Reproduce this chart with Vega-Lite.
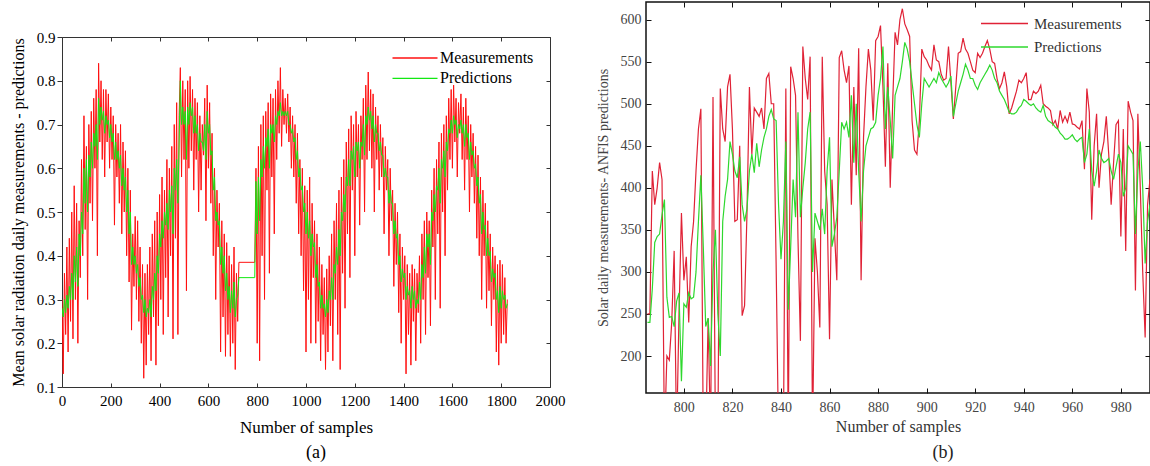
{
"$schema":"https://vega.github.io/schema/vega-lite/v6.json",
"padding":{"left":9,"top":0,"right":0,"bottom":0},
"config":{"font":"Liberation Serif","axis":{"grid":false,"labelFont":"Liberation Serif","titleFont":"Liberation Serif","titleFontWeight":"normal","labelOverlap":false,"labelFlush":false},"title":{"font":"Liberation Serif","fontWeight":"normal"},"legend":{"labelFont":"Liberation Serif"}},
"datasets":{
"a":[
{"s":0,"m":0.30,"p":0.28},{"s":5,"m":0.13,"p":0.26},{"s":10,"m":0.36,"p":0.30},{"s":15,"m":0.22,"p":0.27},{"s":20,"m":0.42,"p":0.31},{"s":25,"m":0.18,"p":0.28},{"s":30,"m":0.44,"p":0.33},{"s":35,"m":0.25,"p":0.30},{"s":40,"m":0.50,"p":0.36},{"s":45,"m":0.21,"p":0.30},{"s":50,"m":0.56,"p":0.40},{"s":55,"m":0.30,"p":0.34},{"s":60,"m":0.52,"p":0.42},{"s":65,"m":0.20,"p":0.33},{"s":70,"m":0.48,"p":0.45},{"s":75,"m":0.35,"p":0.40},{"s":80,"m":0.62,"p":0.50},{"s":85,"m":0.40,"p":0.45},{"s":90,"m":0.72,"p":0.60},{"s":95,"m":0.46,"p":0.52},
{"s":100,"m":0.65,"p":0.62},{"s":105,"m":0.30,"p":0.50},{"s":110,"m":0.70,"p":0.63},{"s":115,"m":0.52,"p":0.58},{"s":120,"m":0.73,"p":0.66},{"s":125,"m":0.48,"p":0.60},{"s":130,"m":0.76,"p":0.68},{"s":135,"m":0.60,"p":0.65},{"s":140,"m":0.78,"p":0.70},{"s":145,"m":0.40,"p":0.62},{"s":150,"m":0.84,"p":0.76},{"s":155,"m":0.66,"p":0.70},{"s":160,"m":0.80,"p":0.74},{"s":165,"m":0.62,"p":0.71},{"s":170,"m":0.78,"p":0.73},{"s":175,"m":0.58,"p":0.68},{"s":180,"m":0.78,"p":0.72},{"s":185,"m":0.66,"p":0.70},{"s":190,"m":0.77,"p":0.71},{"s":195,"m":0.60,"p":0.67},
{"s":200,"m":0.74,"p":0.70},{"s":205,"m":0.62,"p":0.66},{"s":210,"m":0.72,"p":0.68},{"s":215,"m":0.47,"p":0.62},{"s":220,"m":0.70,"p":0.66},{"s":225,"m":0.58,"p":0.62},{"s":230,"m":0.68,"p":0.64},{"s":235,"m":0.52,"p":0.60},{"s":240,"m":0.70,"p":0.63},{"s":245,"m":0.45,"p":0.56},{"s":250,"m":0.66,"p":0.60},{"s":255,"m":0.50,"p":0.55},{"s":260,"m":0.64,"p":0.58},{"s":265,"m":0.40,"p":0.50},{"s":270,"m":0.60,"p":0.55},{"s":275,"m":0.34,"p":0.45},{"s":280,"m":0.55,"p":0.50},{"s":285,"m":0.23,"p":0.38},{"s":290,"m":0.45,"p":0.42},{"s":295,"m":0.33,"p":0.38},
{"s":300,"m":0.49,"p":0.40},{"s":305,"m":0.30,"p":0.36},{"s":310,"m":0.48,"p":0.38},{"s":315,"m":0.25,"p":0.33},{"s":320,"m":0.42,"p":0.35},{"s":325,"m":0.20,"p":0.30},{"s":330,"m":0.38,"p":0.31},{"s":335,"m":0.12,"p":0.27},{"s":340,"m":0.36,"p":0.30},{"s":345,"m":0.15,"p":0.26},{"s":350,"m":0.38,"p":0.28},{"s":355,"m":0.22,"p":0.27},{"s":360,"m":0.42,"p":0.30},{"s":365,"m":0.16,"p":0.26},{"s":370,"m":0.45,"p":0.33},{"s":375,"m":0.26,"p":0.30},{"s":380,"m":0.48,"p":0.36},{"s":385,"m":0.15,"p":0.32},{"s":390,"m":0.50,"p":0.40},{"s":395,"m":0.24,"p":0.36},
{"s":400,"m":0.54,"p":0.45},{"s":405,"m":0.30,"p":0.42},{"s":410,"m":0.58,"p":0.48},{"s":415,"m":0.22,"p":0.44},{"s":420,"m":0.55,"p":0.50},{"s":425,"m":0.35,"p":0.47},{"s":430,"m":0.62,"p":0.52},{"s":435,"m":0.26,"p":0.46},{"s":440,"m":0.60,"p":0.55},{"s":445,"m":0.40,"p":0.50},{"s":450,"m":0.65,"p":0.56},{"s":455,"m":0.21,"p":0.45},{"s":460,"m":0.70,"p":0.60},{"s":465,"m":0.44,"p":0.55},{"s":470,"m":0.75,"p":0.62},{"s":475,"m":0.22,"p":0.52},{"s":480,"m":0.72,"p":0.66},{"s":485,"m":0.83,"p":0.80},{"s":490,"m":0.58,"p":0.70},{"s":495,"m":0.80,"p":0.74},
{"s":500,"m":0.62,"p":0.70},{"s":505,"m":0.78,"p":0.73},{"s":510,"m":0.32,"p":0.62},{"s":515,"m":0.80,"p":0.74},{"s":520,"m":0.60,"p":0.70},{"s":525,"m":0.81,"p":0.75},{"s":530,"m":0.64,"p":0.72},{"s":535,"m":0.78,"p":0.74},{"s":540,"m":0.55,"p":0.68},{"s":545,"m":0.76,"p":0.72},{"s":550,"m":0.62,"p":0.68},{"s":555,"m":0.75,"p":0.70},{"s":560,"m":0.50,"p":0.64},{"s":565,"m":0.72,"p":0.68},{"s":570,"m":0.55,"p":0.66},{"s":575,"m":0.70,"p":0.66},{"s":580,"m":0.63,"p":0.64},{"s":585,"m":0.76,"p":0.70},{"s":590,"m":0.48,"p":0.62},{"s":595,"m":0.79,"p":0.73},
{"s":600,"m":0.60,"p":0.68},{"s":605,"m":0.75,"p":0.70},{"s":610,"m":0.52,"p":0.63},{"s":615,"m":0.68,"p":0.64},{"s":620,"m":0.40,"p":0.55},{"s":625,"m":0.60,"p":0.58},{"s":630,"m":0.30,"p":0.48},{"s":635,"m":0.55,"p":0.50},{"s":640,"m":0.42,"p":0.47},{"s":645,"m":0.52,"p":0.48},{"s":650,"m":0.18,"p":0.38},{"s":655,"m":0.48,"p":0.42},{"s":660,"m":0.26,"p":0.36},{"s":665,"m":0.45,"p":0.40},{"s":670,"m":0.17,"p":0.32},{"s":675,"m":0.43,"p":0.36},{"s":680,"m":0.22,"p":0.30},{"s":685,"m":0.40,"p":0.33},{"s":690,"m":0.17,"p":0.27},{"s":695,"m":0.38,"p":0.32},
{"s":700,"m":0.20,"p":0.28},{"s":705,"m":0.42,"p":0.34},{"s":710,"m":0.14,"p":0.26},{"s":715,"m":0.36,"p":0.30},{"s":720,"m":0.25,"p":0.31},{"s":725,"m":0.385,"p":0.35},{"s":790,"m":0.385,"p":0.35},{"s":795,"m":0.60,"p":0.57},
{"s":800,"m":0.20,"p":0.45},{"s":805,"m":0.65,"p":0.58},{"s":810,"m":0.16,"p":0.48},{"s":815,"m":0.70,"p":0.62},{"s":820,"m":0.40,"p":0.58},{"s":825,"m":0.72,"p":0.65},{"s":830,"m":0.30,"p":0.60},{"s":835,"m":0.73,"p":0.67},{"s":840,"m":0.55,"p":0.65},{"s":845,"m":0.75,"p":0.69},{"s":850,"m":0.36,"p":0.60},{"s":855,"m":0.77,"p":0.70},{"s":860,"m":0.58,"p":0.68},{"s":865,"m":0.76,"p":0.70},{"s":870,"m":0.45,"p":0.66},{"s":875,"m":0.78,"p":0.72},{"s":880,"m":0.62,"p":0.70},{"s":885,"m":0.80,"p":0.73},{"s":890,"m":0.68,"p":0.72},{"s":895,"m":0.83,"p":0.75},
{"s":900,"m":0.65,"p":0.72},{"s":905,"m":0.78,"p":0.73},{"s":910,"m":0.70,"p":0.72},{"s":915,"m":0.76,"p":0.73},{"s":920,"m":0.68,"p":0.72},{"s":925,"m":0.77,"p":0.73},{"s":930,"m":0.66,"p":0.70},{"s":935,"m":0.74,"p":0.70},{"s":940,"m":0.60,"p":0.68},{"s":945,"m":0.72,"p":0.69},{"s":950,"m":0.58,"p":0.66},{"s":955,"m":0.70,"p":0.67},{"s":960,"m":0.52,"p":0.62},{"s":965,"m":0.68,"p":0.64},{"s":970,"m":0.45,"p":0.58},{"s":975,"m":0.62,"p":0.60},{"s":980,"m":0.40,"p":0.55},{"s":985,"m":0.60,"p":0.56},{"s":990,"m":0.32,"p":0.50},{"s":995,"m":0.56,"p":0.52},
{"s":1000,"m":0.18,"p":0.45},{"s":1005,"m":0.55,"p":0.50},{"s":1010,"m":0.30,"p":0.44},{"s":1015,"m":0.58,"p":0.48},{"s":1020,"m":0.20,"p":0.40},{"s":1025,"m":0.52,"p":0.45},{"s":1030,"m":0.35,"p":0.42},{"s":1035,"m":0.48,"p":0.43},{"s":1040,"m":0.20,"p":0.35},{"s":1045,"m":0.45,"p":0.38},{"s":1050,"m":0.25,"p":0.33},{"s":1055,"m":0.42,"p":0.34},{"s":1060,"m":0.16,"p":0.28},{"s":1065,"m":0.38,"p":0.31},{"s":1070,"m":0.22,"p":0.28},{"s":1075,"m":0.35,"p":0.29},{"s":1080,"m":0.14,"p":0.26},{"s":1085,"m":0.37,"p":0.30},{"s":1090,"m":0.18,"p":0.27},{"s":1095,"m":0.40,"p":0.32},
{"s":1100,"m":0.24,"p":0.30},{"s":1105,"m":0.45,"p":0.35},{"s":1110,"m":0.16,"p":0.30},{"s":1115,"m":0.48,"p":0.38},{"s":1120,"m":0.30,"p":0.36},{"s":1125,"m":0.52,"p":0.42},{"s":1130,"m":0.22,"p":0.38},{"s":1135,"m":0.55,"p":0.46},{"s":1140,"m":0.14,"p":0.40},{"s":1145,"m":0.58,"p":0.50},{"s":1150,"m":0.36,"p":0.48},{"s":1155,"m":0.62,"p":0.54},{"s":1160,"m":0.28,"p":0.50},{"s":1165,"m":0.66,"p":0.58},{"s":1170,"m":0.45,"p":0.56},{"s":1175,"m":0.69,"p":0.62},{"s":1180,"m":0.35,"p":0.56},{"s":1185,"m":0.72,"p":0.64},{"s":1190,"m":0.55,"p":0.62},{"s":1195,"m":0.70,"p":0.65},
{"s":1200,"m":0.40,"p":0.58},{"s":1205,"m":0.73,"p":0.66},{"s":1210,"m":0.58,"p":0.64},{"s":1215,"m":0.70,"p":0.66},{"s":1220,"m":0.47,"p":0.60},{"s":1225,"m":0.72,"p":0.66},{"s":1230,"m":0.62,"p":0.65},{"s":1235,"m":0.76,"p":0.70},{"s":1240,"m":0.50,"p":0.63},{"s":1245,"m":0.79,"p":0.72},{"s":1250,"m":0.62,"p":0.70},{"s":1255,"m":0.82,"p":0.74},{"s":1260,"m":0.64,"p":0.71},{"s":1265,"m":0.78,"p":0.73},{"s":1270,"m":0.60,"p":0.69},{"s":1275,"m":0.77,"p":0.72},{"s":1280,"m":0.50,"p":0.66},{"s":1285,"m":0.74,"p":0.70},{"s":1290,"m":0.62,"p":0.68},{"s":1295,"m":0.72,"p":0.68},
{"s":1300,"m":0.55,"p":0.64},{"s":1305,"m":0.70,"p":0.66},{"s":1310,"m":0.58,"p":0.63},{"s":1315,"m":0.67,"p":0.63},{"s":1320,"m":0.45,"p":0.58},{"s":1325,"m":0.65,"p":0.60},{"s":1330,"m":0.55,"p":0.58},{"s":1335,"m":0.62,"p":0.58},{"s":1340,"m":0.40,"p":0.52},{"s":1345,"m":0.60,"p":0.55},{"s":1350,"m":0.48,"p":0.52},{"s":1355,"m":0.55,"p":0.52},{"s":1360,"m":0.33,"p":0.45},{"s":1365,"m":0.52,"p":0.48},{"s":1370,"m":0.38,"p":0.44},{"s":1375,"m":0.50,"p":0.45},{"s":1380,"m":0.27,"p":0.38},{"s":1385,"m":0.45,"p":0.40},{"s":1390,"m":0.20,"p":0.34},{"s":1395,"m":0.42,"p":0.37},
{"s":1400,"m":0.30,"p":0.35},{"s":1405,"m":0.40,"p":0.36},{"s":1410,"m":0.13,"p":0.30},{"s":1415,"m":0.38,"p":0.33},{"s":1420,"m":0.22,"p":0.31},{"s":1425,"m":0.36,"p":0.32},{"s":1430,"m":0.15,"p":0.28},{"s":1435,"m":0.38,"p":0.33},{"s":1440,"m":0.25,"p":0.30},{"s":1445,"m":0.37,"p":0.32},{"s":1450,"m":0.16,"p":0.28},{"s":1455,"m":0.36,"p":0.30},{"s":1460,"m":0.27,"p":0.29},{"s":1465,"m":0.40,"p":0.34},{"s":1470,"m":0.20,"p":0.30},{"s":1475,"m":0.45,"p":0.38},{"s":1480,"m":0.30,"p":0.35},{"s":1485,"m":0.48,"p":0.42},{"s":1490,"m":0.22,"p":0.36},{"s":1495,"m":0.50,"p":0.45},
{"s":1500,"m":0.35,"p":0.42},{"s":1505,"m":0.48,"p":0.45},{"s":1510,"m":0.24,"p":0.38},{"s":1515,"m":0.55,"p":0.50},{"s":1520,"m":0.42,"p":0.48},{"s":1525,"m":0.60,"p":0.54},{"s":1530,"m":0.30,"p":0.50},{"s":1535,"m":0.62,"p":0.56},{"s":1540,"m":0.45,"p":0.55},{"s":1545,"m":0.66,"p":0.60},{"s":1550,"m":0.28,"p":0.52},{"s":1555,"m":0.68,"p":0.62},{"s":1560,"m":0.50,"p":0.60},{"s":1565,"m":0.70,"p":0.64},{"s":1570,"m":0.40,"p":0.58},{"s":1575,"m":0.72,"p":0.66},{"s":1580,"m":0.55,"p":0.64},{"s":1585,"m":0.76,"p":0.69},{"s":1590,"m":0.62,"p":0.68},{"s":1595,"m":0.78,"p":0.71},
{"s":1600,"m":0.60,"p":0.68},{"s":1605,"m":0.79,"p":0.72},{"s":1610,"m":0.66,"p":0.70},{"s":1615,"m":0.76,"p":0.71},{"s":1620,"m":0.58,"p":0.67},{"s":1625,"m":0.75,"p":0.70},{"s":1630,"m":0.68,"p":0.69},{"s":1635,"m":0.77,"p":0.71},{"s":1640,"m":0.62,"p":0.68},{"s":1645,"m":0.74,"p":0.70},{"s":1650,"m":0.55,"p":0.65},{"s":1655,"m":0.76,"p":0.70},{"s":1660,"m":0.62,"p":0.67},{"s":1665,"m":0.72,"p":0.68},{"s":1670,"m":0.50,"p":0.62},{"s":1675,"m":0.70,"p":0.66},{"s":1680,"m":0.58,"p":0.63},{"s":1685,"m":0.68,"p":0.64},{"s":1690,"m":0.52,"p":0.60},{"s":1695,"m":0.65,"p":0.61},
{"s":1700,"m":0.44,"p":0.56},{"s":1705,"m":0.63,"p":0.58},{"s":1710,"m":0.40,"p":0.52},{"s":1715,"m":0.58,"p":0.54},{"s":1720,"m":0.30,"p":0.45},{"s":1725,"m":0.55,"p":0.50},{"s":1730,"m":0.40,"p":0.46},{"s":1735,"m":0.52,"p":0.47},{"s":1740,"m":0.28,"p":0.40},{"s":1745,"m":0.48,"p":0.44},{"s":1750,"m":0.32,"p":0.40},{"s":1755,"m":0.45,"p":0.41},{"s":1760,"m":0.24,"p":0.34},{"s":1765,"m":0.42,"p":0.37},{"s":1770,"m":0.30,"p":0.35},{"s":1775,"m":0.40,"p":0.36},{"s":1780,"m":0.18,"p":0.30},{"s":1785,"m":0.38,"p":0.32},{"s":1790,"m":0.15,"p":0.27},{"s":1795,"m":0.39,"p":0.33},
{"s":1800,"m":0.20,"p":0.28},{"s":1805,"m":0.38,"p":0.32},{"s":1810,"m":0.22,"p":0.30},{"s":1815,"m":0.35,"p":0.31},{"s":1820,"m":0.20,"p":0.28},{"s":1825,"m":0.30,"p":0.29}
],
"b":[
{"s":785,"m":250,"p":240},{"s":786,"m":250,"p":240},{"s":787,"m":420,"p":280},{"s":788,"m":380,"p":335},{"s":789,"m":400,"p":342},{"s":790,"m":430,"p":345},{"s":791,"m":410,"p":368},{"s":792,"m":100,"p":386},{"s":793,"m":200,"p":270},{"s":794,"m":195,"p":246},{"s":795,"m":240,"p":247},{"s":796,"m":325,"p":235},{"s":797,"m":100,"p":265},{"s":798,"m":250,"p":275},{"s":799,"m":370,"p":170},
{"s":800,"m":290,"p":262},{"s":801,"m":318,"p":258},{"s":802,"m":240,"p":275},{"s":803,"m":330,"p":268},{"s":804,"m":360,"p":270},{"s":805,"m":420,"p":300},{"s":806,"m":470,"p":360},{"s":807,"m":494,"p":415},{"s":808,"m":100,"p":330},{"s":809,"m":100,"p":235},{"s":810,"m":245,"p":245},{"s":811,"m":100,"p":188},{"s":812,"m":508,"p":300},{"s":813,"m":100,"p":350},{"s":814,"m":100,"p":250},{"s":815,"m":518,"p":200},{"s":816,"m":470,"p":360},{"s":817,"m":455,"p":390},{"s":818,"m":520,"p":410},{"s":819,"m":535,"p":455},
{"s":820,"m":470,"p":440},{"s":821,"m":360,"p":420},{"s":822,"m":362,"p":412},{"s":823,"m":450,"p":437},{"s":824,"m":248,"p":380},{"s":825,"m":260,"p":360},{"s":826,"m":370,"p":375},{"s":827,"m":520,"p":420},{"s":828,"m":440,"p":440},{"s":829,"m":495,"p":418},{"s":830,"m":490,"p":453},{"s":831,"m":485,"p":425},{"s":832,"m":495,"p":445},{"s":833,"m":470,"p":460},{"s":834,"m":530,"p":470},{"s":835,"m":536,"p":485},{"s":836,"m":500,"p":493},{"s":837,"m":500,"p":482},{"s":838,"m":309,"p":480},{"s":839,"m":100,"p":380},
{"s":840,"m":100,"p":315},{"s":841,"m":100,"p":360},{"s":842,"m":518,"p":455},{"s":843,"m":100,"p":255},{"s":844,"m":544,"p":330},{"s":845,"m":530,"p":410},{"s":846,"m":510,"p":365},{"s":847,"m":340,"p":490},{"s":848,"m":218,"p":365},{"s":849,"m":568,"p":400},{"s":850,"m":530,"p":430},{"s":851,"m":505,"p":470},{"s":852,"m":556,"p":490},{"s":853,"m":100,"p":300},{"s":854,"m":340,"p":370},{"s":855,"m":300,"p":360},{"s":856,"m":234,"p":350},{"s":857,"m":556,"p":375},{"s":858,"m":420,"p":345},{"s":859,"m":380,"p":420},
{"s":860,"m":220,"p":460},{"s":861,"m":410,"p":330},{"s":862,"m":350,"p":345},{"s":863,"m":290,"p":365},{"s":864,"m":555,"p":420},{"s":865,"m":563,"p":478},{"s":866,"m":540,"p":470},{"s":867,"m":525,"p":478},{"s":868,"m":545,"p":460},{"s":869,"m":380,"p":510},{"s":870,"m":520,"p":430},{"s":871,"m":415,"p":500},{"s":872,"m":566,"p":420},{"s":873,"m":290,"p":360},{"s":874,"m":460,"p":420},{"s":875,"m":520,"p":450},{"s":876,"m":565,"p":460},{"s":877,"m":540,"p":470},{"s":878,"m":480,"p":472},{"s":879,"m":575,"p":478},
{"s":880,"m":580,"p":510},{"s":881,"m":593,"p":530},{"s":882,"m":520,"p":568},{"s":883,"m":425,"p":470},{"s":884,"m":548,"p":520},{"s":885,"m":400,"p":480},{"s":886,"m":500,"p":435},{"s":887,"m":585,"p":510},{"s":888,"m":570,"p":520},{"s":889,"m":600,"p":530},{"s":890,"m":613,"p":550},{"s":891,"m":595,"p":573},{"s":892,"m":588,"p":565},{"s":893,"m":580,"p":550},{"s":894,"m":480,"p":525},{"s":895,"m":445,"p":500},{"s":896,"m":440,"p":475},{"s":897,"m":480,"p":460},{"s":898,"m":565,"p":500},{"s":899,"m":556,"p":530},
{"s":900,"m":552,"p":525},{"s":901,"m":545,"p":520},{"s":902,"m":540,"p":525},{"s":903,"m":570,"p":530},{"s":904,"m":552,"p":525},{"s":905,"m":550,"p":537},{"s":906,"m":535,"p":530},{"s":907,"m":528,"p":525},{"s":908,"m":530,"p":520},{"s":909,"m":568,"p":525},{"s":910,"m":525,"p":533},{"s":911,"m":482,"p":485},{"s":912,"m":520,"p":500},{"s":913,"m":560,"p":515},{"s":914,"m":562,"p":525},{"s":915,"m":578,"p":535},{"s":916,"m":565,"p":547},{"s":917,"m":560,"p":540},{"s":918,"m":550,"p":530},{"s":919,"m":540,"p":530},
{"s":920,"m":537,"p":522},{"s":921,"m":560,"p":517},{"s":922,"m":555,"p":525},{"s":923,"m":560,"p":530},{"s":924,"m":568,"p":535},{"s":925,"m":575,"p":540},{"s":926,"m":565,"p":546},{"s":927,"m":550,"p":540},{"s":928,"m":548,"p":530},{"s":929,"m":530,"p":525},{"s":930,"m":518,"p":515},{"s":931,"m":525,"p":510},{"s":932,"m":538,"p":505},{"s":933,"m":520,"p":498},{"s":934,"m":488,"p":490},{"s":935,"m":495,"p":488},{"s":936,"m":505,"p":488},{"s":937,"m":515,"p":490},{"s":938,"m":528,"p":495},{"s":939,"m":525,"p":498},
{"s":940,"m":530,"p":505},{"s":941,"m":537,"p":503},{"s":942,"m":505,"p":500},{"s":943,"m":505,"p":498},{"s":944,"m":515,"p":500},{"s":945,"m":512,"p":495},{"s":946,"m":515,"p":492},{"s":947,"m":522,"p":490},{"s":948,"m":500,"p":498},{"s":949,"m":497,"p":485},{"s":950,"m":495,"p":480},{"s":951,"m":492,"p":478},{"s":952,"m":475,"p":476},{"s":953,"m":480,"p":472},{"s":954,"m":470,"p":470},{"s":955,"m":492,"p":465},{"s":956,"m":478,"p":462},{"s":957,"m":485,"p":458},{"s":958,"m":478,"p":458},{"s":959,"m":490,"p":460},
{"s":960,"m":476,"p":463},{"s":961,"m":475,"p":458},{"s":962,"m":472,"p":455},{"s":963,"m":470,"p":458},{"s":964,"m":480,"p":460},{"s":965,"m":422,"p":430},{"s":966,"m":518,"p":440},{"s":967,"m":490,"p":470},{"s":968,"m":362,"p":420},{"s":969,"m":450,"p":402},{"s":970,"m":488,"p":420},{"s":971,"m":400,"p":445},{"s":972,"m":440,"p":435},{"s":973,"m":455,"p":430},{"s":974,"m":485,"p":432},{"s":975,"m":440,"p":435},{"s":976,"m":380,"p":420},{"s":977,"m":430,"p":410},{"s":978,"m":475,"p":425},{"s":979,"m":480,"p":440},
{"s":980,"m":342,"p":430},{"s":981,"m":470,"p":390},{"s":982,"m":325,"p":400},{"s":983,"m":503,"p":450},{"s":984,"m":490,"p":445},{"s":985,"m":480,"p":440},{"s":986,"m":278,"p":345},{"s":987,"m":488,"p":420},{"s":988,"m":400,"p":455},{"s":989,"m":300,"p":400},{"s":990,"m":222,"p":310},{"s":991,"m":380,"p":360},{"s":992,"m":410,"p":380}
]
},
"hconcat":[
{"vconcat":[
 {"width":488,"height":27,"data":{"values":[]},"mark":{"type":"point"},"encoding":{},"view":{"stroke":null}},
 {"width":488,"height":350,
  "data":{"name":"a"},
  "title":{"text":"(a)","orient":"bottom","fontSize":18,"color":"#000","dx":10,"offset":9},
  "view":{"stroke":"#333","strokeWidth":1},
  "layer":[
   {"transform":[{"fold":["m","p"],"as":["k","v"]}],
    "mark":{"type":"line","clip":true,"strokeWidth":1},
    "encoding":{
     "x":{"field":"s","type":"quantitative","scale":{"domain":[0,2000],"nice":false},
          "axis":{"values":[0,200,400,600,800,1000,1200,1400,1600,1800,2000],"format":"d","tickSize":-4,"tickColor":"#333","labelPadding":10,"domain":false,"labelFontSize":15,"labelColor":"#000","title":"Number of samples","titleFontSize":17,"titleColor":"#000","titlePadding":11}},
     "y":{"field":"v","type":"quantitative","scale":{"domain":[0.1,0.9],"nice":false},
          "axis":{"values":[0.1,0.2,0.3,0.4,0.5,0.6,0.7,0.8,0.9],"format":".1f","tickSize":5,"tickColor":"#333","labelPadding":2,"domain":false,"labelFontSize":15,"labelColor":"#000","title":"Mean solar radiation daily measurements - predictions","titleFontSize":16,"titleColor":"#000","titlePadding":10}},
     "color":{"field":"k","type":"nominal","scale":{"domain":["m","p"],"range":["#ff1010","#12e812"]},
          "legend":{"orient":"none","legendX":345,"legendY":48,"title":null,"symbolType":"M-4.5,0H4.5","symbolSize":100,"symbolStrokeWidth":1.3,"labelFontSize":16,"labelColor":"#000","labelOffset":17,"rowPadding":4.4,"labelExpr":"datum.label == 'm' ? 'Measurements' : 'Predictions'"}}
    }},
   {"data":{"values":[{"s":0,"v":0.5}]},
    "mark":{"type":"point","opacity":0},
    "encoding":{
     "x":{"field":"s","type":"quantitative","scale":{"domain":[0,2000],"nice":false},"axis":{"orient":"top","values":[0,200,400,600,800,1000,1200,1400,1600,1800,2000],"tickSize":-4,"tickColor":"#333","labels":false,"domain":false,"title":null}},
     "y":{"field":"v","type":"quantitative","scale":{"domain":[0.1,0.9],"nice":false},"axis":{"orient":"right","values":[0.1,0.2,0.3,0.4,0.5,0.6,0.7,0.8,0.9],"tickSize":-4,"tickColor":"#333","labels":false,"domain":false,"title":null}}
    }}
  ],
  "resolve":{"axis":{"x":"independent","y":"independent"}}
 }
],"spacing":0},
{"width":504,"height":391,
 "data":{"name":"b"},
 "title":{"text":"(b)","orient":"bottom","fontSize":18,"color":"#222","dx":45,"offset":10},
 "view":{"stroke":"#111","strokeWidth":1.5},
 "layer":[
  {"transform":[{"fold":["m","p"],"as":["k","v"]}],
   "mark":{"type":"line","clip":true,"strokeWidth":1.2},
   "encoding":{
    "x":{"field":"s","type":"quantitative","scale":{"domain":[784.4,992],"nice":false,"zero":false},
         "axis":{"values":[800,820,840,860,880,900,920,940,960,980],"tickSize":-5,"tickColor":"#111","labelPadding":12,"domain":false,"labelFontSize":14,"labelColor":"#444","title":"Number of samples","titleFontSize":16,"titleColor":"#333","titlePadding":4}},
    "y":{"field":"v","type":"quantitative","scale":{"domain":[156,621],"nice":false,"zero":false},
         "axis":{"values":[200,250,300,350,400,450,500,550,600],"tickSize":-5,"tickColor":"#111","labelPadding":10,"domain":false,"labelFontSize":14,"labelColor":"#444","title":"Solar daily measurements- ANFIS predictions","titleFontSize":14,"titleColor":"#444","titlePadding":10}},
    "color":{"field":"k","type":"nominal","scale":{"domain":["m","p"],"range":["#e02236","#2ed82e"]},
         "legend":{"orient":"none","legendX":351,"legendY":14,"title":null,"symbolType":"M-4.7,0H4.7","symbolSize":100,"symbolStrokeWidth":1.3,"labelFontSize":15,"labelColor":"#333","labelOffset":22,"rowPadding":7.5,"labelExpr":"datum.label == 'm' ? 'Measurements' : 'Predictions'"}}
   }},
  {"data":{"values":[{"s":800,"v":400}]},
   "mark":{"type":"point","opacity":0},
   "encoding":{
    "x":{"field":"s","type":"quantitative","scale":{"domain":[784.4,992],"nice":false,"zero":false},"axis":{"orient":"top","values":[800,820,840,860,880,900,920,940,960,980],"tickSize":-5,"tickColor":"#111","labels":false,"domain":false,"title":null}},
    "y":{"field":"v","type":"quantitative","scale":{"domain":[156,621],"nice":false,"zero":false},"axis":{"orient":"right","values":[200,250,300,350,400,450,500,550,600],"tickSize":-5,"tickColor":"#111","labels":false,"domain":false,"title":null}}
   }}
 ],
 "resolve":{"axis":{"x":"independent","y":"independent"}}
}
],
"spacing":29,
"resolve":{"scale":{"color":"independent"},"legend":{"color":"independent"}}
}
